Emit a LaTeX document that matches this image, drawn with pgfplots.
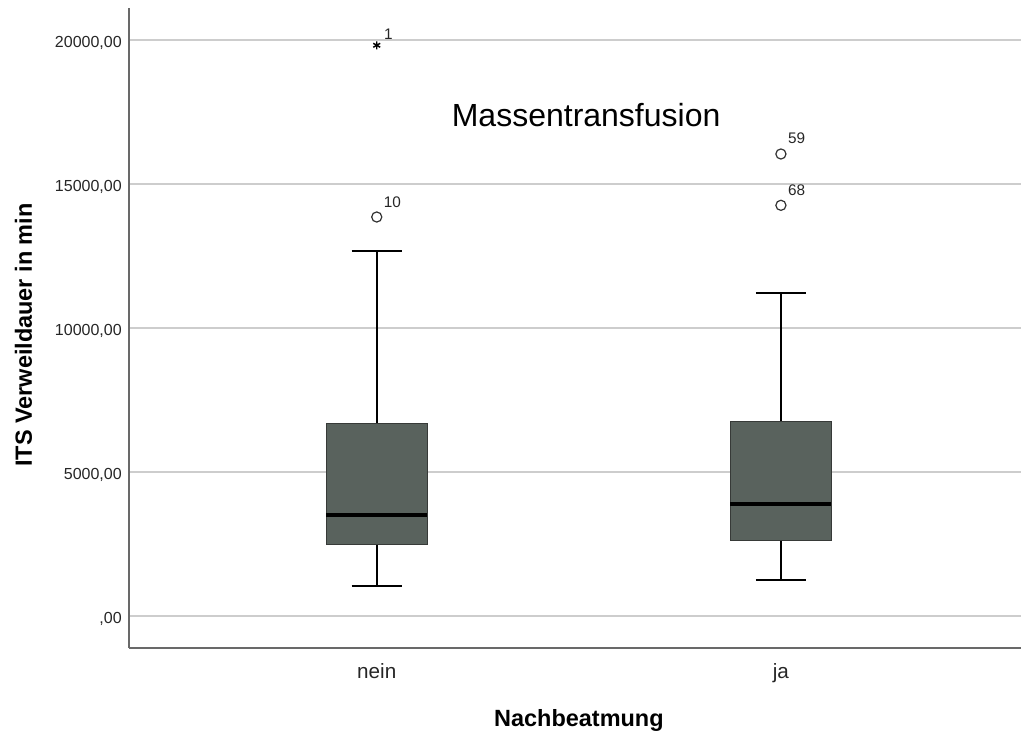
\documentclass[border=0pt]{standalone}
\usepackage{fontspec}
\setmainfont{Liberation Sans}
\usepackage{pgfplots}
\pgfplotsset{compat=1.18}
\usepgfplotslibrary{statistics}
\definecolor{boxfill}{RGB}{89,98,93}
\definecolor{boxedge}{RGB}{55,58,56}
\definecolor{gridc}{RGB}{205,205,205}
\definecolor{axc}{RGB}{105,105,105}
\definecolor{outc}{RGB}{50,50,50}
\begin{document}
\begin{tikzpicture}
\useasboundingbox (-96.75pt,-63.75pt) rectangle (669pt,486pt);
\begin{axis}[
  at={(0,0)}, anchor=south west,
  scale only axis, width=669pt, height=480pt,
  xmin=0.387, xmax=2.594,
  ymin=-1111, ymax=21111,
  clip=false,
  axis lines=left,
  axis line style={-, draw=axc, line width=1.2pt},
  major tick length=0pt,
  xtick={1,2}, xticklabels={nein,ja},
  ytick={0,5000,10000,15000,20000},
  yticklabels={{,00},{5000,00},{10000,00},{15000,00},{20000,00}},
  ymajorgrids,
  major grid style={draw=gridc, line width=1.1pt},
  xticklabel style={font=\fontsize{15.5}{18}\selectfont, text=black!85, anchor=base, yshift=-22.7pt},
  yticklabel style={font=\fontsize{12}{14}\selectfont, text=black!85, anchor=base east, inner sep=0pt, xshift=-5.25pt, yshift=-5.8pt},
  xlabel={Nachbeatmung},
  ylabel={ITS Verweildauer in min},
  xlabel style={font=\fontsize{17.6}{20}\selectfont\bfseries, at={(axis description cs:0.5044,-0.1219)}, anchor=base},
  ylabel style={font=\fontsize{17.6}{20}\selectfont\bfseries, at={(axis description cs:-0.1183,0.489)}, anchor=center},
  boxplot/draw direction=y,
  boxplot/every box/.style={draw=boxedge, line width=0.9pt, fill=boxfill},
  boxplot/every whisker/.style={draw=black, line width=1.5pt},
  boxplot/every median/.style={draw=black, line width=2.75pt},
]
\addplot[boxplot prepared={median=3497, upper quartile=6681, lower quartile=2479,
  upper whisker=12663, lower whisker=1042, draw position=1,
  box extend=0.25, whisker extend=0.124}] coordinates {};
\addplot[boxplot prepared={median=3878, upper quartile=6750, lower quartile=2618,
  upper whisker=11229, lower whisker=1240, draw position=2,
  box extend=0.25, whisker extend=0.124}] coordinates {};
% outliers (circles)
\addplot[only marks, mark=o, mark size=3.8pt, draw=outc, line width=0.9pt,
  point meta=explicit symbolic, nodes near coords,
  every node near coord/.append style={anchor=base west, inner sep=0pt, xshift=4.95pt, yshift=7.5pt, font=\fontsize{11.5}{13}\selectfont, text=black!85}]
  coordinates {(1,13854) [10] (2,14260) [68] (2,16042) [59]};
% extreme (star)
\addplot[only marks, mark=asterisk, mark size=3pt, draw=black, line width=1.1pt,
  point meta=explicit symbolic, nodes near coords,
  every node near coord/.append style={anchor=base west, inner sep=0pt, xshift=4.95pt, yshift=4.2pt, font=\fontsize{11.5}{13}\selectfont, text=black!85}]
  coordinates {(1,19816) [1]};
\node[anchor=base, inner sep=0pt, font=\fontsize{24}{28}\selectfont] at (axis cs:1.518,17003) {Massentransfusion};
\end{axis}
\end{tikzpicture}
\end{document}
